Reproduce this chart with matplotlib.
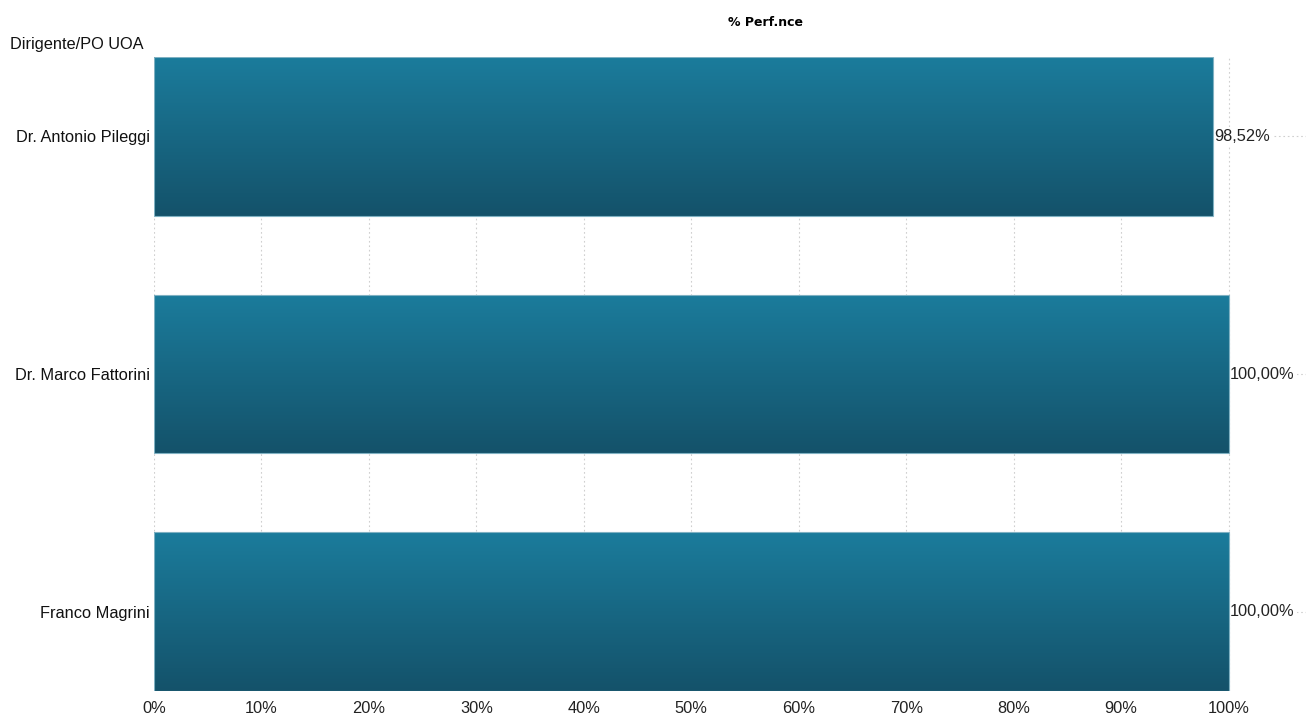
import numpy as np
import matplotlib.pyplot as plt
from matplotlib.colors import LinearSegmentedColormap

# dati
nomi = ["Dr. Antonio Pileggi", "Dr. Marco Fattorini", "Franco Magrini"]
perf = [0.9852, 1.0, 1.0]
tick_val = [0, 0.1, 0.2, 0.3, 0.4, 0.5, 0.6, 0.7, 0.8, 0.9, 1.0]
tick_lab = ["0%", "10%", "20%", "30%", "40%", "50%", "60%", "70%", "80%", "90%", "100%"]

plt.rcParams['font.family'] = ['Liberation Sans', 'DejaVu Sans']

fig = plt.figure(figsize=(13.06, 7.19), dpi=100)
ax = fig.add_axes([154/1306, 1 - 691/719, 1 - 154/1306, (691 - 57)/719])
ax.set_axisbelow(True)

h = 0.668
y = np.arange(len(nomi))
bars = ax.barh(y, perf, height=h, color='none', edgecolor='#7fb1c2', linewidth=0.8, zorder=3)

# gradiente verticale dentro ogni barra
cmap = LinearSegmentedColormap.from_list("grad", ["#1b7c9c", "#14526a"])
grad = np.linspace(0, 1, 256).reshape(-1, 1)
for b in bars:
    x0, y0 = b.get_x(), b.get_y()
    w, hh = b.get_width(), b.get_height()
    im = ax.imshow(grad, cmap=cmap, aspect='auto', extent=[x0, x0 + w, y0 + hh, y0],
                   origin='upper', zorder=2)
    im.set_clip_path(b)

ax.set_xlim(0, 1.072)
ax.set_ylim(len(nomi) - 1 + h/2, -h/2)

fs = 11.8
ax.set_xticks(tick_val)
ax.set_xticklabels(tick_lab, fontsize=fs, color='#222222')
ax.set_yticks(y)
ax.set_yticklabels(nomi, fontsize=fs, color='#111111')
ax.tick_params(axis='y', length=0, pad=3)
ax.tick_params(axis='x', length=0, pad=7)

ax.grid(axis='both', color='#cfcfcf', linestyle=(0, (1.5, 2.5)), linewidth=0.8)
for s in ax.spines.values():
    s.set_visible(False)

# etichette valori (sfondo bianco sopra la griglia, sotto le barre)
for i in range(len(nomi)):
    testo = f"{perf[i]*100:.2f}%".replace('.', ',')
    ax.text(perf[i] + 0.0015, y[i], testo, va='center', ha='left', fontsize=fs,
            color='#222222', zorder=1.8,
            bbox=dict(facecolor='white', edgecolor='none', pad=1.5))

fig.text(765/1306, 1 - 22/719, "% Perf.nce", ha='center', va='center', fontsize=9,
         fontweight='bold', family=['DejaVu Sans'])
fig.text(10/1306, 1 - 44/719, "Dirigente/PO UOA", ha='left', va='center', fontsize=fs,
         color='#111111')

fig.savefig("out.png", dpi=100)
